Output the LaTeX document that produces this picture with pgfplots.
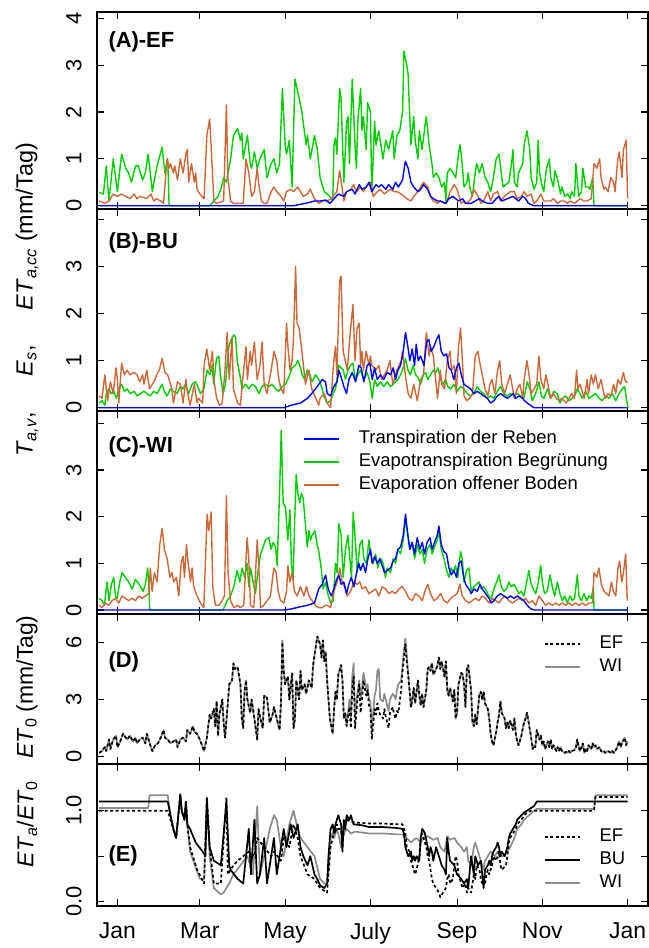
\documentclass[border=0pt]{standalone}
\usepackage{pgfplots}
\pgfplotsset{compat=1.18}
\usepackage{fontspec}
\setmainfont{Liberation Sans}
\definecolor{cblue}{RGB}{0,0,255}
\definecolor{cgreen}{RGB}{0,205,0}
\definecolor{corange}{RGB}{205,104,57}
\definecolor{cgray}{RGB}{140,140,140}
\tikzset{
  plbl/.style={anchor=west, inner sep=0pt, font=\bfseries\fontsize{22}{22}\selectfont},
  lwa/.style={line width=1.4bp},
  lwb/.style={line width=1.7bp},
}
\pgfplotsset{
  panel/.style={
    scale only axis, width=551bp, anchor=south west,
    xmin=-14.6, xmax=379.6,
    xtick={0,59,120,181,243,304,365}, xticklabels={},
    tick align=inside, tick pos=both,
    xticklabel pos=lower, yticklabel pos=left,
    major tick length=7bp,
    axis line style={line width=1.3bp},
    every tick/.style={black, line width=1.1bp},
    /pgf/number format/assume math mode=true,
    yticklabel style={rotate=90, anchor=south, font=\fontsize{22}{22}\selectfont},
    yticklabel shift=12bp,
    xticklabel style={font=\fontsize{23}{23}\selectfont},
    xticklabel shift=13bp,
    legend image code/.code={\draw[##1] (0bp,0bp) -- (35bp,0bp); \path (53bp,0bp);},
    legend style={draw=none, fill=none, inner sep=0pt, font=\fontsize{18.5}{18.5}\selectfont,
      nodes={inner sep=1bp, text height=13bp, text depth=4bp}, row sep=4bp},
    legend cell align=left,
    every axis plot/.append style={line join=round, no markers},
  },
}
\begin{document}
\begin{tikzpicture}
\useasboundingbox (0bp,0bp) rectangle (649bp,948bp);

% ---------------- (A) EF
\begin{axis}[panel, at={(97bp,739bp)}, height=197bp, ymin=-0.07, ymax=4.135, ytick={0,1,2,3,4}]
\addplot[cgreen, lwa] coordinates {(-13,0.28)(-10,0.25)(-8,0.85)(-6,0.1)(-3,1.0)(0,0.3)(3,1.1)(6,0.8)(8,0.7)(10,0.5)(13,0.85)(15,0.85)(18,0.55)(20,0.7)(22,1.1)(25,0.3)(28,0.8)(32,1.25)(34,0.7)(36,1.0)(37,0)(66,0)(69,0.1)(72,0.2)(74,0.35)(76,0.6)(78,0.5)(81,1.0)(83,1.5)(86,1.65)(88,1.4)(89,1.55)(90,1.0)(93,1.5)(95,0.9)(96,0.8)(98,1.15)(100,0.8)(102,1.0)(105,1.2)(107,0.6)(110,0.9)(112,1.0)(114,0.7)(116,0.9)(118,2.5)(120,1.3)(121,1.1)(123,1.4)(125,0.4)(127,2.7)(130,2.3)(132,2.0)(135,1.3)(136,1.5)(138,1.0)(141,1.5)(143,1.2)(145,0.6)(148,0.3)(150,0.25)(152,0.2)(154,0.1)(155,1.3)(156,1.45)(157,1.1)(159,2.5)(160,2.3)(162,0.5)(164,1.8)(165,1.9)(166,0.9)(168,2.7)(170,1.3)(171,0.8)(172,1.8)(174,2.5)(175,1.6)(176,1.9)(178,1.2)(179,2.2)(181,2.0)(182,0.3)(184,1.8)(185,1.3)(187,1.6)(188,1.4)(190,1.0)(192,1.4)(194,1.2)(197,1.6)(198,1.0)(200,1.5)(202,1.6)(204,2.0)(205,3.3)(207,3.0)(208,2.8)(209,2.0)(210,1.3)(212,1.9)(213,1.4)(215,1.0)(216,1.6)(218,1.2)(220,1.7)(221,1.9)(223,1.3)(225,0.9)(226,0.6)(228,0.7)(230,0.6)(232,0.4)(234,0.5)(235,0.1)(236,0.7)(238,0.8)(240,0.7)(242,0.6)(244,1.1)(245,1.3)(246,1.1)(248,0.4)(250,0.5)(251,0.7)(252,0.4)(254,0.2)(256,0.7)(257,0.9)(259,0.7)(261,0.9)(263,0.6)(265,0.5)(267,0.3)(269,0.6)(271,1.0)(273,1.1)(275,0.6)(276,0.4)(278,0.45)(280,0.5)(282,0.9)(283,1.2)(284,0.5)(286,0.4)(287,0.7)(290,0.9)(291,1.3)(293,1.6)(295,1.2)(296,0.6)(298,0.35)(300,0.5)(301,1.4)(302,0.7)(304,0.4)(305,0.3)(307,0.8)(309,1.0)(310,0.6)(312,0.4)(313,0.75)(315,0.55)(317,0.25)(318,0.4)(320,0.2)(322,0.25)(324,0.15)(325,0.3)(327,0.2)(328,0.9)(330,0.2)(332,0.3)(333,0.8)(335,0.4)(337,0.4)(338,0.35)(340,0.6)(341,0)(365,0)};
\addplot[corange, lwa] coordinates {(-13,0.1)(-9,0.05)(-6,0.1)(-3,0.25)(0,0.2)(3,0.25)(6,0.2)(9,0.15)(12,0.25)(14,0.15)(16,0.2)(21,0.15)(24,0.25)(26,0.1)(28,0.15)(31,0.1)(33,0.05)(35.5,1.0)(37,0.8)(38,0.9)(40,0.7)(41,0.85)(43,0.55)(45,1.0)(47,0.7)(49,1.1)(50,1.2)(51,0.5)(53,0.9)(55,0.5)(56,0.7)(57,0.35)(59,0.25)(62,0.15)(64,1.5)(66,1.85)(67,1.3)(69,0.1)(71,0.05)(76,0.1)(78,2.15)(79,0.6)(81,0.1)(83,0.05)(90,0.05)(92,1.0)(94,0.7)(96,0.2)(98,0.3)(100,0.8)(101,0.5)(103,0.1)(105,0.05)(107,0.05)(110,0.3)(112,0.4)(114,0.3)(117,0.2)(119,0.1)(121,0.3)(124,0.35)(126,0.3)(129,0.4)(131,0.3)(133,0.2)(136,0.25)(138,0.35)(141,0.15)(144,0.05)(147,0.1)(150,0.1)(153,0.15)(157,0.3)(159,0.75)(160,0.55)(162,0.1)(164,0.3)(167,0.35)(169,0.45)(171,0.3)(174,0.4)(176,0.3)(179,0.45)(181,0.5)(183,0.2)(186,0.3)(188,0.35)(191,0.25)(193,0.3)(195,0.35)(198,0.3)(200,0.3)(203,0.25)(205,0.2)(207,0.15)(210,0.1)(212,0.2)(215,0.3)(217,0.4)(219,0.5)(222,0.4)(224,0.2)(226,0.1)(229,0.05)(231,0.1)(234,0.05)(236,0.1)(238,0.3)(241,0.45)(243,0.35)(246,0.05)(248,0.1)(250,0.05)(253,0.15)(255,0.35)(258,0.2)(260,0.05)(262,0.1)(265,0.3)(267,0.1)(269,0.25)(272,0.3)(274,0.1)(277,0.2)(279,0.25)(281,0.3)(284,0.3)(286,0.15)(289,0.2)(291,0.3)(293,0.2)(296,0.25)(298,0.05)(300,0.1)(303,0.25)(305,0.1)(308,0.1)(310,0.1)(312,0.15)(315,0.05)(317,0.1)(320,0.1)(322,0.05)(324,0.1)(327,0.05)(329,0.1)(331,0.15)(334,0.1)(336,0.1)(339,0.15)(341,0.9)(343,0.8)(345,1.0)(346,0.6)(348,0.35)(349,0.4)(351,0.3)(353,0.6)(355,0.5)(356,0.3)(358,1.0)(359,1.15)(361,0.6)(362,1.2)(364,1.4)(365,0.15)};
\addplot[cblue, lwa] coordinates {(-13,0)(126,0)(131,0.03)(136,0.06)(141,0.1)(145,0.1)(149,0.12)(152,0.05)(155,0.15)(158,0.25)(162,0.2)(164,0.3)(168,0.35)(170,0.25)(173,0.45)(175,0.35)(178,0.4)(180,0.5)(182,0.3)(185,0.45)(187,0.4)(189,0.45)(192,0.35)(194,0.45)(197,0.35)(199,0.5)(201,0.4)(204,0.55)(206,0.95)(208,0.8)(210,0.5)(212,0.4)(215,0.3)(217,0.35)(219,0.45)(222,0.35)(224,0.2)(226,0.15)(229,0.1)(231,0.1)(235,0.05)(237,0.15)(240,0.2)(242,0.15)(244,0.1)(247,0.15)(249,0.05)(253,0.05)(256,0.1)(259,0.15)(261,0.1)(265,0.05)(268,0.05)(271,0.15)(273,0.2)(275,0.1)(279,0.15)(283,0.2)(285,0.15)(287,0.1)(290,0.2)(292,0.15)(294,0.05)(298,0)(365,0)};
\node[plbl] at (axis cs:-6.5,3.5) {(A)-EF};
\end{axis}

% ---------------- (B) BU
\begin{axis}[panel, at={(97bp,537bp)}, height=202bp, ymin=-0.07, ymax=4.228, ytick={0,1,2,3,4}, yticklabels={0,1,2,3,}]
\addplot[cgreen, lwa] coordinates {(-13,0.1)(-11,0.15)(-9,0.05)(-8,0.3)(-6,0.4)(-4.5,0.3)(-2.6,0.35)(-0.7,0.2)(1,0.4)(3,0.5)(5,0.35)(7,0.4)(9,0.3)(12,0.35)(14,0.25)(16.5,0.3)(19,0.35)(21,0.3)(23.5,0.25)(26,0.35)(28.5,0.3)(31,0.45)(32,0.5)(33.5,0.35)(35.5,0.25)(38,0.4)(40,0.35)(42.7,0.3)(45,0.45)(47,0.4)(48.7,0.5)(51,0.3)(53.4,0.5)(55.8,0.55)(57.5,0.45)(59.4,0.3)(61.8,0.4)(64.2,0.8)(66.1,0.7)(67.8,0.9)(68.9,0.5)(70.9,1.05)(72.5,1.1)(73.7,0.7)(75.6,0.3)(77.3,0.5)(79.7,1.3)(81.4,1.45)(83.3,1.55)(84.5,1.5)(85.7,1.0)(87.6,0.7)(89.2,0.4)(91.6,0.5)(94,0.4)(96.4,0.5)(98.8,0.45)(101.2,0.3)(103.6,0.45)(105.9,0.5)(108.3,0.45)(110.7,0.5)(113.1,0.4)(115.5,0.35)(117.9,0.45)(120.3,0.5)(122.6,0.65)(125,0.85)(127.4,0.9)(129.1,1.0)(131,0.85)(132.2,0.7)(133.9,0.6)(135.8,0.8)(137.7,0.7)(139.3,0.55)(141.7,0.7)(144.1,0.6)(146.5,0.4)(147.7,0.25)(150.1,0.1)(152.5,0.15)(154.4,0.3)(156,0.4)(158.4,0.9)(160.1,0.85)(161.5,0.8)(163.2,0.6)(164.9,0.8)(166.8,0.9)(168.4,0.95)(170.4,0.6)(172,0.7)(173.9,0.8)(176.3,0.6)(178.7,0.75)(180.6,0.55)(182.3,0.2)(184,0.6)(185.9,0.45)(188.2,0.55)(190.6,0.45)(193,0.55)(195.4,0.45)(197.3,0.5)(199,0.55)(200.7,0.6)(202.6,0.7)(204.5,0.85)(206.1,1.05)(207.8,0.8)(209.7,0.7)(211.6,0.9)(213.3,0.7)(215,0.65)(216.9,0.5)(218.8,0.7)(220.5,0.75)(222.1,0.6)(224,0.7)(226,0.8)(227.6,0.75)(229.3,0.85)(231.2,0.6)(233.1,0.5)(234.8,0.6)(236.4,0.45)(238.4,0.4)(240.7,0.5)(243.1,0.35)(245.5,0.45)(247.9,0.4)(250.3,0.3)(252.7,0.25)(255.1,0.3)(257.4,0.45)(259.8,0.35)(262.2,0.3)(264.6,0.2)(267,0.25)(269.4,0.2)(271.8,0.35)(274.1,0.45)(276.5,0.3)(278.9,0.25)(281.3,0.3)(283.7,0.25)(286.1,0.3)(288.5,0.25)(290.8,0.2)(293.2,0.55)(295.1,0.4)(296.8,0.15)(299.2,0.3)(301.6,0.55)(303.3,0.25)(305.2,0.2)(307.5,0.4)(309.9,0.2)(312.3,0.35)(314.7,0.3)(316.6,0.1)(318.3,0.2)(320.7,0.25)(323.1,0.15)(325.4,0.2)(327.8,0.3)(329,0.4)(330.9,0.3)(332.6,0.2)(335,0.35)(337.4,0.2)(339.8,0.25)(342.1,0.3)(344.5,0.2)(346.9,0.15)(349.3,0.25)(351.7,0.2)(354.1,0.3)(356.5,0.15)(358.9,0.3)(361.2,0.4)(362.9,0.45)(364.3,0.15)(365.3,0)};
\addplot[corange, lwa] coordinates {(-13,0.25)(-11,0.2)(-9,0.7)(-7,0.15)(-5,0.55)(-3,0.3)(-1,0.85)(0,0.6)(1,0.1)(3,0.95)(5,0.7)(7,0.8)(9,0.7)(12,0.75)(14,0.7)(16,0.55)(18,0.7)(19,0.5)(21,0.8)(23,0.4)(25,0.5)(27,0.6)(28,0.7)(30,0.8)(32,1.05)(34,0.75)(36,0.7)(38,0.5)(39,0.4)(40,0.1)(43,0.55)(45,0.5)(47,0.1)(49,0.6)(50,0.35)(52,0.05)(55,0.5)(57,0.1)(58,0.2)(61,0.1)(62,0.9)(64,1.25)(66,0.8)(68,1.2)(69,0.6)(71,0.2)(73,0.05)(75,0.1)(77,0.8)(78.5,1.6)(80,0.6)(82,1.5)(83,0.4)(86,0.1)(88,0.05)(89,0.4)(92,1.3)(93,0.6)(95,1.2)(96,0.9)(98,1.4)(100,0.6)(102,0.9)(103.5,1.4)(105,0.5)(107,0.3)(110,0.8)(112,1.2)(114,1.0)(115.5,0.6)(117,0.4)(119,0.3)(121,1.8)(122,1.3)(123.5,0.8)(125,1.0)(126,1.5)(127.5,3.0)(128.5,1.8)(130,1.7)(132,1.2)(134.5,0.5)(137,0.8)(139,0.4)(142,0.2)(144,0.05)(145,0.2)(148,0.3)(150,0.1)(152.5,0.0)(154.5,0.9)(156,1.3)(157,0.7)(159,2.7)(160,2.8)(161.5,1.2)(163,1.0)(164.5,0.8)(166,1.4)(168.5,2.2)(170,1.0)(171.5,1.7)(173,1.8)(174,0.9)(175,1.2)(176,0.8)(178,1.2)(180,0.9)(181,1.1)(182,0.9)(185,0.8)(187,0.9)(189,0.6)(191,0.7)(193,0.8)(195,1.0)(197,0.5)(198,0.6)(200,0.8)(203,1.0)(204,1.2)(206,0.7)(208,0.3)(210,0.2)(212,0.5)(214.5,0.15)(217,0.6)(219,0.7)(221,1.6)(223,1.1)(224,1.3)(226,1.1)(229,0.2)(231,0.8)(232,0.5)(234,0.4)(236,1.0)(238,1.2)(239,0.8)(241,0.9)(242.5,0.3)(244,1.3)(245.5,1.7)(247,0.9)(248,0.25)(250,0.15)(252,0.2)(254,0.3)(256,1.1)(258,1.2)(259,1.0)(261,0.7)(263,0.4)(265,0.25)(266.5,0.5)(268,0.6)(270,0.3)(272,0.8)(273.5,1.0)(275,0.5)(277,0.3)(279,0.5)(281,0.7)(282.5,0.45)(284,0.2)(286,0.4)(288,0.5)(290,0.2)(291,0.6)(293,1.0)(294.5,0.7)(296,0.3)(298,0.4)(300,0.5)(301.5,1.1)(303,0.6)(305,0.4)(306.5,0.7)(308,0.5)(310,0.2)(312,0.3)(314,0.2)(316,0.15)(318,0.2)(321,0.1)(323,0.2)(325,0.3)(327,0.2)(328.5,0.8)(329.5,0.4)(331,0.5)(334,0.2)(336,0.6)(337,0.3)(339,0.7)(340.5,0.5)(342,0.7)(344,0.4)(346,0.6)(348,0.3)(349,0.2)(351,0.3)(353,0.25)(355,0.5)(356.5,0.3)(358,0.6)(360,0.5)(362,0.75)(363.5,0.55)(365,0.55)};
\addplot[cblue, lwa] coordinates {(-13,0)(119,0)(124,0.05)(131,0.1)(136,0.2)(139,0.3)(143,0.45)(146.5,0.6)(148.9,0.55)(150.1,0.3)(152.5,0.25)(154.8,0.45)(157.2,0.55)(158.4,0.8)(160.1,0.65)(162,0.45)(163.9,0.3)(165.6,0.6)(168,0.75)(170.4,0.55)(172.7,0.9)(174.4,0.85)(176.3,0.55)(178.7,0.9)(180.6,0.95)(182.3,0.6)(184,0.85)(185.9,0.6)(188.2,0.7)(190.6,0.6)(193,0.75)(195.4,0.7)(197.3,0.85)(199,0.6)(200.7,0.8)(202.6,0.9)(204.5,1.2)(206.1,1.6)(207.8,1.3)(209.2,1.0)(210.9,1.25)(212.6,0.9)(213.8,1.35)(215.2,1.0)(216.9,1.1)(219.3,0.9)(221.2,1.4)(222.8,1.45)(224.5,1.2)(226.4,1.3)(228.3,1.45)(230,1.55)(231.7,1.2)(233.6,1.1)(235.5,1.15)(237.2,0.85)(238.8,0.8)(240.7,0.6)(242.6,0.85)(244.3,0.95)(246,0.7)(247.9,0.5)(250.3,0.45)(252.7,0.4)(255.1,0.3)(257.4,0.35)(259.8,0.3)(262.2,0.25)(264.6,0.2)(267,0.1)(269.4,0.15)(271.8,0.25)(274.1,0.3)(276.5,0.25)(278.9,0.2)(281.3,0.25)(283.2,0.3)(284.9,0.2)(287.3,0.25)(289.7,0.2)(291.3,0.15)(293.2,0.1)(295.6,0.05)(298,0)(365,0)};
\node[plbl] at (axis cs:-6.5,3.5) {(B)-BU};
\end{axis}

% ---------------- (C) WI
\begin{axis}[panel, at={(97bp,334bp)}, height=203bp, ymin=-0.086, ymax=4.264, ytick={0,1,2,3,4}, yticklabels={0,1,2,3,},
  legend style={at={(axis cs:133,3.87)}, anchor=north west}]
\addlegendimage{cblue, lwa}\addlegendentry{Transpiration der Reben}
\addlegendimage{cgreen, lwa}\addlegendentry{Evapotranspiration Begrünung}
\addlegendimage{corange, lwa}\addlegendentry{Evaporation offener Boden}
\addplot[cgreen, lwa, forget plot] coordinates {(-13,0.25)(-11,0.2)(-9.3,0.1)(-7.4,0.6)(-6,0.2)(-4.3,0.55)(-2.6,0.7)(-1.4,0.3)(-0.2,0.25)(1.7,0.6)(3.3,0.8)(5.7,0.7)(8.1,0.6)(10.5,0.45)(12.9,0.65)(14.5,0.6)(16.5,0.5)(18.4,0.4)(20,0.55)(21.7,0.9)(22.7,0.4)(23.1,0)(75.6,0)(78.5,0.2)(80.9,0.3)(83.3,0.5)(85.7,0.85)(87.6,0.6)(89.2,0.9)(91.1,0.7)(92.8,1.0)(94,0.5)(95.2,0.9)(97.1,0.6)(98.8,0.35)(100.4,0.8)(102.4,1.2)(104.3,1.35)(105.9,1.5)(108.3,1.55)(110,1.3)(111.4,1.45)(113.1,1.35)(114.3,0.95)(116.2,2.7)(117.2,3.85)(118.6,2.3)(120.3,2.2)(121.9,1.5)(123.4,2.15)(124.5,1.0)(125.7,0.65)(126.7,1.8)(127.9,2.9)(129.1,2.5)(130.5,2.3)(131.7,2.5)(132.9,2.4)(134.6,1.8)(135.8,1.35)(137,1.7)(138.2,1.5)(139.3,1.6)(141.3,1.7)(142.9,1.4)(144.1,1.25)(145.8,0.9)(147.2,0.45)(148.9,0.6)(150.5,0.35)(152.5,0.15)(154.4,0.2)(156,1.0)(157.2,0.8)(158.4,1.85)(160.1,1.6)(161.5,0.7)(163.2,1.3)(164.9,1.6)(166.3,1.1)(167.5,0.7)(168.7,2.1)(170.4,1.4)(171.5,0.8)(173.5,1.4)(175.1,1.5)(176.3,1.1)(178.2,1.0)(179.9,1.5)(181.1,1.2)(183,1.0)(184.7,1.2)(186.3,0.9)(188.2,1.1)(190.2,1.0)(191.8,0.7)(193,0.9)(195.4,0.8)(197.3,1.1)(199,1.0)(200.7,1.3)(202.6,1.2)(204.5,1.5)(206.1,1.95)(207.8,1.6)(209.2,1.3)(210.9,1.45)(212.6,1.1)(214.5,1.4)(216.4,1.2)(218.1,1.3)(219.7,1.0)(221.6,1.3)(223.6,1.4)(225.2,1.2)(226.9,1.35)(228.8,1.5)(230,1.7)(231.7,1.3)(233.6,1.1)(235.5,0.85)(237.2,0.7)(238.8,0.9)(240.3,0.8)(241.9,0.95)(243.6,0.7)(245.5,1.25)(246.7,1.1)(247.9,0.6)(249.8,0.85)(251.5,0.9)(253.1,0.4)(255.1,0.5)(257,0.55)(258.6,0.6)(260.3,0.45)(262.2,0.5)(264.1,0.4)(265.8,0.3)(267.5,0.25)(269.4,0.45)(271.3,0.6)(273,0.75)(274.6,0.5)(276.5,0.4)(278.4,0.45)(280.1,0.6)(281.8,0.5)(283.7,0.55)(285.6,0.45)(287.3,0.35)(288.9,0.4)(290.8,0.3)(292.8,0.6)(294.4,0.85)(295.6,0.6)(297.5,0.45)(299.2,0.35)(300.9,0.55)(302.8,0.95)(304,0.6)(305.6,0.35)(307.5,0.4)(309.5,0.75)(311.1,0.5)(312.8,0.3)(314.7,0.6)(316.6,0.35)(318.3,0.2)(320,0.3)(321.9,0.15)(323.8,0.3)(325.4,0.2)(327.1,0.25)(329,0.75)(330.2,0.3)(331.9,0.2)(333.8,0.35)(335.7,0.2)(337.4,0.3)(339.1,0.25)(340.5,0.5)(341,0)(365,0)};
\addplot[corange, lwa, forget plot] coordinates {(-13,0.1)(-11,0.05)(-8.6,0.15)(-6.2,0.1)(-3.8,0.2)(-1.4,0.25)(1,0.15)(3.3,0.3)(5.7,0.25)(8.1,0.2)(10.5,0.25)(12.9,0.2)(15.3,0.3)(17.7,0.25)(20,0.3)(22.4,0.35)(23.6,0.9)(24.8,0.4)(26.5,0.8)(28.4,0.6)(30.3,1.4)(32,1.75)(33.6,1.3)(35.6,1.1)(37.5,0.7)(39.1,0.8)(40.3,0.6)(42.2,0.7)(43.9,0.3)(45.6,1.0)(47,1.15)(48,0.7)(49.4,1.4)(50.6,1.0)(52.3,0.6)(53.4,0.9)(54.6,0.5)(57,0.3)(59.4,0.15)(61.8,0.05)(64.2,2.05)(65.4,1.7)(67.1,2.1)(68.2,0.5)(70.1,0.1)(72.5,0.1)(74.9,0.2)(76.6,0.3)(78,2.45)(79.2,0.8)(80.9,0.2)(83.3,0.05)(86.1,0.1)(88,0.05)(90.4,0.1)(92.8,1.55)(94,1.1)(95.2,0.1)(97.6,0.05)(100,1.5)(101.2,0.9)(102.4,0.05)(104.7,0.1)(107.1,0.2)(109.5,0.3)(111.9,0.9)(113.6,0.8)(115,0.4)(116.7,0.2)(119.1,0.15)(121,0.4)(122,0.95)(123.4,0.6)(125,0.8)(126.7,0.4)(128.6,0.3)(131,0.5)(133.4,0.3)(135.3,0.5)(137,0.3)(139.3,0.2)(141.7,0.1)(144.1,0.05)(146.5,0.05)(148.9,0.1)(150.1,0.1)(152.5,0.05)(154.8,0.4)(157.2,0.6)(159.1,0.9)(160.8,0.6)(162.5,0.5)(164.4,0.3)(166.8,0.4)(169.2,0.6)(171.5,0.55)(173.5,0.6)(175.1,0.45)(177.5,0.5)(179.9,0.35)(182.3,0.4)(184.7,0.45)(187.1,0.3)(189.4,0.5)(191.8,0.45)(194.2,0.35)(196.6,0.4)(199,0.35)(201.4,0.45)(203.8,0.5)(206.1,0.4)(208.5,0.25)(210.9,0.2)(213.3,0.35)(215.7,0.3)(218.1,0.2)(220.5,0.45)(222.1,0.55)(224,0.35)(226.4,0.2)(228.8,0.25)(231.2,0.35)(233.6,0.2)(236,0.15)(238.4,0.25)(240.7,0.3)(243.1,0.35)(245,0.55)(246.7,0.3)(249.1,0.2)(251.5,0.15)(253.9,0.2)(256.2,0.25)(258.6,0.2)(261,0.3)(263.4,0.25)(265.8,0.15)(268.2,0.25)(270.6,0.2)(273,0.15)(275.3,0.25)(277.7,0.3)(280.1,0.2)(282.5,0.15)(284.9,0.2)(287.3,0.25)(289.7,0.2)(292,0.25)(294.4,0.15)(296.8,0.2)(299.2,0.1)(301.6,0.3)(304,0.2)(306.4,0.1)(308.7,0.15)(311.1,0.1)(313.5,0.15)(315.9,0.1)(318.3,0.15)(320.7,0.1)(323.1,0.15)(325.4,0.1)(327.8,0.15)(330.2,0.1)(332.6,0.15)(335,0.1)(337.4,0.15)(339.8,0.15)(341,0.8)(342.9,0.7)(344.5,0.9)(346.2,0.55)(348.1,0.4)(350,0.35)(351.7,0.3)(353.4,0.6)(354.8,0.4)(356.5,0.3)(358.1,0.9)(359.3,1.05)(360.8,0.6)(362,0.8)(363.6,1.2)(364.8,0.2)};
\addplot[cblue, lwa, forget plot] coordinates {(-13,0)(119,0)(124,0.02)(131,0.07)(136,0.1)(141,0.15)(144,0.45)(146.5,0.55)(148.9,0.75)(150.5,0.5)(151.5,0.4)(153,0.3)(154.8,0.45)(156.8,0.65)(158.4,0.75)(160.1,0.55)(162,0.6)(163.9,0.35)(165.6,0.55)(167.3,0.7)(169.2,0.5)(171.1,0.8)(172.7,1.0)(173.9,0.85)(175.8,1.0)(177.5,0.8)(179.2,1.1)(181.1,1.3)(182.3,1.0)(184,1.15)(185.9,1.0)(187.8,1.1)(189.4,0.95)(191.1,0.8)(193,0.85)(195.4,0.9)(197.3,1.05)(199,1.1)(200.7,1.3)(202.6,1.35)(204.5,1.6)(206.1,2.05)(207.8,1.6)(209.2,1.3)(210.9,1.45)(212.6,1.2)(214.5,1.55)(216.4,1.3)(218.1,1.45)(219.7,1.2)(221.6,1.45)(223.6,1.55)(225.2,1.3)(226.9,1.45)(228.8,1.6)(230,1.8)(231.7,1.4)(233.6,1.25)(235.5,1.2)(237.2,0.9)(238.8,0.75)(240.7,0.85)(242.6,0.7)(244.3,1.0)(246,1.05)(247.4,0.75)(249.1,0.55)(251.5,0.45)(253.1,0.35)(255.1,0.45)(257.4,0.4)(259.4,0.55)(261,0.45)(263.4,0.35)(265.8,0.25)(267.5,0.15)(269.4,0.2)(271.8,0.3)(274.1,0.35)(276.5,0.3)(278.9,0.25)(281.3,0.3)(283.7,0.25)(286.1,0.3)(288.5,0.25)(290.8,0.2)(293.2,0.1)(295.6,0.03)(298,0)(365,0)};
\node[plbl] at (axis cs:-6.5,3.5) {(C)-WI};
\end{axis}

% ---------------- (D) ET0
\begin{axis}[panel, at={(97bp,184bp)}, height=150bp, ymin=-0.383, ymax=7.483, ytick={0,3,6},
  legend style={at={(axis cs:305,6.41)}, anchor=north west}]
\addlegendimage{black, lwb, dash pattern=on 3bp off 2.5bp}\addlegendentry{EF}
\addlegendimage{cgray, lwb}\addlegendentry{WI}
\addplot[cgray, lwb, forget plot] coordinates {(-13,0.2)(-11,0.3)(-9,0.5)(-8,0.3)(-6,0.9)(-5,0.4)(-3,0.9)(-1,1.1)(0,0.5)(2,0.8)(4,1.2)(6,1.0)(7,0.9)(9,1.1)(11,0.8)(13,1.0)(14,0.7)(16,0.9)(18,1.0)(20,0.7)(21,1.2)(24,0.5)(25,0.3)(27,0.6)(29,0.7)(31,1.0)(33,1.4)(34,1.0)(36,0.9)(38,0.7)(40,0.8)(42,0.9)(43,0.5)(45,0.9)(47,1.0)(49,0.8)(50,1.4)(52,1.2)(54,1.6)(55,1.3)(57,1.2)(59,0.9)(61,0.5)(62,0.3)(64,1.0)(66,2.2)(67,2.0)(69,2.5)(70,1.6)(71,2.9)(72,1.1)(73,2.2)(75,3.0)(76,1.8)(77,1.0)(79,2.8)(80,3.8)(82,4.0)(83,4.9)(84,4.6)(86,4.7)(88,3.8)(89,2.0)(90,1.5)(91,3.5)(92,4.0)(93,3.0)(95,2.3)(96,3.0)(98,2.0)(100,0.9)(101,2.5)(102,2.1)(104,1.5)(105,3.2)(107,3.1)(109,1.8)(111,2.2)(112,2.6)(114,2.0)(116,1.4)(117,2.8)(118,6.1)(119,4.5)(120,3.8)(122,4.2)(123,3.0)(125,4.4)(126,1.5)(127,2.0)(128,4.0)(130,3.0)(131,4.5)(132,3.5)(134,3.8)(135,3.3)(137,4.0)(139,3.6)(140,4.8)(142,5.8)(143,6.3)(145,5.9)(146,5.2)(147,6.1)(148,5.0)(149,5.5)(150,4.0)(151,3.0)(152,2.0)(154,1.2)(155,2.5)(156,3.4)(157,3.0)(158,4.3)(160,4.8)(161,4.0)(162,2.0)(163,2.3)(164,1.6)(166,3.0)(167,2.0)(168,4.2)(169,4.9)(170,2.2)(172,3.5)(173,4.0)(174,3.0)(175,3.6)(176,4.4)(178,3.6)(179,3.8)(180,3.0)(181,2.9)(182,1.4)(184,3.2)(185,3.5)(186,4.5)(187,4.6)(188,3.0)(190,2.9)(191,3.3)(192,3.0)(193,2.7)(194,2.4)(195,3.0)(197,3.3)(198,3.2)(199,3.0)(200,3.5)(201,3.8)(203,4.0)(204,4.8)(205,5.6)(206,6.2)(207,5.3)(209,3.5)(210,2.6)(211,3.0)(212,3.6)(213,2.8)(215,4.0)(216,3.2)(217,2.7)(218,3.3)(219,2.6)(221,3.5)(222,4.6)(223,4.7)(224,4.5)(225,4.9)(226,4.3)(228,4.6)(229,4.8)(230,5.2)(231,4.6)(232,5.0)(234,4.2)(235,5.0)(236,3.5)(237,3.2)(238,3.6)(240,2.9)(241,3.5)(242,2.0)(243,2.3)(244,3.8)(246,4.4)(247,4.3)(248,3.8)(249,2.6)(250,4.6)(251,4.8)(253,3.5)(254,1.8)(255,1.6)(256,2.2)(257,1.7)(259,3.3)(260,3.4)(261,3.0)(262,3.4)(263,2.8)(265,2.5)(266,2.0)(267,1.2)(268,0.8)(269,0.6)(271,1.3)(272,1.8)(273,2.2)(274,2.9)(275,2.3)(277,2.0)(278,1.5)(279,1.8)(280,1.5)(281,1.9)(283,1.4)(284,2.0)(285,1.2)(286,0.8)(287,0.6)(289,1.1)(290,1.5)(291,1.8)(292,2.0)(293,2.3)(294,1.9)(296,1.0)(297,0.4)(298,0.6)(299,0.5)(300,1.4)(302,0.9)(303,1.1)(304,0.6)(305,0.8)(306,0.4)(308,0.8)(309,0.5)(310,0.9)(311,0.4)(312,0.6)(314,0.3)(315,0.5)(316,0.3)(317,0.5)(318,0.3)(320,0.2)(321,0.25)(322,0.2)(323,0.3)(324,0.2)(325,0.3)(327,0.35)(328,0.5)(329,0.9)(330,0.5)(331,0.3)(333,0.7)(334,0.2)(335,0.4)(336,0.3)(337,0.6)(339,0.4)(340,0.7)(341,0.5)(342,0.6)(343,0.4)(345,0.5)(346,0.3)(347,0.25)(348,0.3)(349,0.2)(351,0.3)(352,0.25)(353,0.2)(354,0.3)(355,0.2)(357,0.4)(358,0.6)(359,0.8)(360,0.5)(361,0.7)(363,1.0)(364,0.6)(365,0.8)};
\addplot[black, lwb, dash pattern=on 3bp off 2.5bp, forget plot] coordinates {(-13,0.2)(-11,0.3)(-9,0.5)(-8,0.3)(-6,0.9)(-5,0.4)(-3,0.9)(-1,1.1)(0,0.5)(2,0.8)(4,1.2)(6,1.0)(7,0.9)(9,1.1)(11,0.8)(13,1.0)(14,0.7)(16,0.9)(18,1.0)(20,0.7)(21,1.2)(24,0.5)(25,0.3)(27,0.6)(29,0.7)(31,1.0)(33,1.4)(34,1.0)(36,0.9)(38,0.7)(40,0.8)(42,0.9)(43,0.5)(45,0.9)(47,1.0)(49,0.8)(50,1.4)(52,1.2)(54,1.6)(55,1.3)(57,1.2)(59,0.9)(61,0.5)(62,0.3)(64,1.0)(66,2.2)(67,2.0)(69,2.5)(70,1.6)(71,2.9)(72,1.1)(73,2.2)(75,3.0)(76,1.8)(77,1.0)(79,2.8)(80,3.8)(82,4.0)(83,4.9)(84,4.6)(86,4.7)(88,3.8)(89,2.0)(90,1.5)(91,3.5)(92,4.0)(93,3.0)(95,2.3)(96,3.0)(98,2.0)(100,0.9)(101,2.5)(102,2.1)(104,1.5)(105,3.2)(107,3.1)(109,1.8)(111,2.2)(112,2.6)(114,2.0)(116,1.4)(117,2.8)(118,6.0)(119,4.5)(120,3.8)(122,4.2)(123,3.0)(125,4.4)(126,1.5)(127,2.0)(128,4.0)(130,3.0)(131,4.5)(132,3.5)(134,3.8)(135,3.3)(137,4.0)(139,3.6)(140,4.8)(142,5.8)(143,6.3)(145,5.9)(146,5.2)(147,6.1)(148,5.0)(149,5.5)(150,4.0)(151,3.0)(152,2.0)(154,1.2)(155,2.5)(156,3.4)(157,3.0)(158,4.3)(160,4.8)(161,4.0)(162,2.0)(163,2.3)(164,1.6)(166,2.6)(167,1.5)(168,3.5)(169,4.2)(170,1.5)(172,3.2)(173,3.8)(174,2.3)(175,3.0)(176,4.0)(178,3.2)(179,3.5)(180,2.7)(181,2.5)(182,0.9)(184,2.5)(185,2.2)(186,2.8)(187,2.4)(188,2.2)(190,2.0)(191,2.5)(192,2.1)(193,1.8)(194,1.5)(195,2.3)(197,2.6)(198,2.2)(199,2.0)(200,2.4)(201,2.3)(203,3.5)(204,4.5)(205,5.2)(206,5.9)(207,5.0)(209,3.5)(210,2.6)(211,3.0)(212,3.6)(213,2.8)(215,4.0)(216,3.2)(217,2.7)(218,3.3)(219,2.6)(221,3.5)(222,4.6)(223,4.7)(224,4.5)(225,4.9)(226,4.3)(228,4.6)(229,4.8)(230,5.2)(231,4.6)(232,5.0)(234,4.2)(235,5.0)(236,3.5)(237,3.2)(238,3.6)(240,2.9)(241,3.5)(242,2.0)(243,2.3)(244,3.8)(246,4.4)(247,4.3)(248,3.8)(249,2.6)(250,4.6)(251,4.8)(253,3.5)(254,1.8)(255,1.6)(256,2.2)(257,1.7)(259,3.3)(260,3.4)(261,3.0)(262,3.4)(263,2.8)(265,2.5)(266,2.0)(267,1.2)(268,0.8)(269,0.6)(271,1.3)(272,1.8)(273,2.2)(274,2.9)(275,2.3)(277,2.0)(278,1.5)(279,1.8)(280,1.5)(281,1.9)(283,1.4)(284,2.0)(285,1.2)(286,0.8)(287,0.6)(289,1.1)(290,1.5)(291,1.8)(292,2.0)(293,2.3)(294,1.9)(296,1.0)(297,0.4)(298,0.6)(299,0.5)(300,1.4)(302,0.9)(303,1.1)(304,0.6)(305,0.8)(306,0.4)(308,0.8)(309,0.5)(310,0.9)(311,0.4)(312,0.6)(314,0.3)(315,0.5)(316,0.3)(317,0.5)(318,0.3)(320,0.2)(321,0.25)(322,0.2)(323,0.3)(324,0.2)(325,0.3)(327,0.35)(328,0.5)(329,0.9)(330,0.5)(331,0.3)(333,0.7)(334,0.2)(335,0.4)(336,0.3)(337,0.6)(339,0.4)(340,0.7)(341,0.5)(342,0.6)(343,0.4)(345,0.5)(346,0.3)(347,0.25)(348,0.3)(349,0.2)(351,0.3)(352,0.25)(353,0.2)(354,0.3)(355,0.2)(357,0.4)(358,0.6)(359,0.8)(360,0.5)(361,0.7)(363,1.0)(364,0.6)(365,0.8)};
\node[plbl] at (axis cs:-6.5,5) {(D)};
\end{axis}

% ---------------- (E) ETa/ET0
\begin{axis}[panel, at={(97bp,42bp)}, height=142bp, ymin=-0.047, ymax=1.513, ytick={0,0.5,1}, yticklabels={0.0,,1.0},
  xticklabels={Jan,Mar,May,July,Sep,Nov,Jan},
  legend style={at={(axis cs:305,0.815)}, anchor=north west}]
\addlegendimage{black, lwb, dash pattern=on 3bp off 2.5bp}\addlegendentry{EF}
\addlegendimage{black, lwb}\addlegendentry{BU}
\addlegendimage{cgray, lwb}\addlegendentry{WI}
\addplot[cgray, lwb, forget plot] coordinates {(-13,1.03)(22,1.03)(23,1.17)(36,1.17)(38,0.95)(40,0.8)(42,0.7)(45,1.15)(46,1.0)(48,0.9)(49,1.1)(50,0.85)(52,0.55)(59,0.25)(62,0.25)(64,1.15)(66,0.5)(69,0.15)(74,0.08)(76,0.1)(80,0.2)(83,0.3)(88,0.4)(93,0.5)(97,0.3)(100,1.05)(102,0.3)(105,0.5)(109,0.8)(112,0.95)(114,0.9)(117,0.6)(119,0.5)(123,0.85)(126,1.0)(129,0.8)(131,0.7)(136,0.6)(141,0.5)(145,0.25)(148,0.2)(150,0.2)(151,0.35)(152.5,0.7)(154,0.75)(155,0.7)(157,0.8)(158,0.75)(160,0.6)(162,0.75)(164,0.8)(167,0.75)(170,0.77)(180,0.75)(190,0.75)(200,0.74)(204,0.74)(205,0.72)(207,0.7)(210,0.65)(212,0.68)(214,0.7)(217,0.65)(219,0.7)(222,0.72)(224,0.7)(226,0.68)(229,0.7)(231,0.6)(234,0.55)(236,0.72)(237,0.7)(238,0.68)(241,0.7)(243,0.65)(246,0.6)(248,0.55)(250,0.6)(251,0.45)(253,0.4)(254,0.5)(255,0.6)(256,0.65)(257,0.6)(259,0.5)(260,0.45)(261,0.4)(262,0.35)(263,0.45)(265,0.5)(267,0.55)(270,0.5)(272,0.55)(274,0.5)(277,0.5)(279,0.55)(281,0.6)(284,0.7)(286,0.8)(289,0.85)(291,0.9)(293,0.93)(296,0.97)(298,1.0)(300,1.02)(341,1.02)(342,1.17)(365,1.17)};
\addplot[black, lwb, forget plot] coordinates {(-13,1.1)(36,1.1)(38,0.95)(40,0.8)(42,0.7)(45,1.18)(46,1.0)(48,0.9)(49,1.1)(50,0.85)(52,0.8)(56,0.65)(61,0.55)(63,0.5)(64,1.1)(66,0.6)(69,0.45)(74,0.4)(78,1.1)(80,0.4)(81,0.35)(86,0.25)(90,0.2)(94,0.8)(95.5,0.3)(98,0.9)(100,0.2)(102,0.3)(105,0.7)(107,0.2)(110,0.5)(112,0.7)(114,0.3)(117,0.6)(119,0.8)(121,0.6)(124,0.85)(126,0.7)(129,0.85)(131,0.6)(133,0.5)(136,0.4)(138,0.5)(141,0.3)(143,0.25)(145,0.18)(148,0.15)(150,0.2)(151,0.5)(152.5,0.8)(154,0.85)(155,0.75)(156,0.85)(157,0.9)(158,0.95)(160,0.85)(161,0.55)(162,0.9)(163,0.8)(164,0.95)(166,0.9)(167,0.95)(169,0.85)(175,0.84)(180,0.82)(190,0.82)(200,0.81)(204,0.8)(205,0.75)(206,0.6)(207,0.55)(208,0.5)(210,0.55)(211,0.45)(212,0.5)(213,0.45)(214,0.5)(216,0.45)(217,0.7)(218,0.8)(219,0.78)(220,0.75)(222,0.6)(223,0.5)(224,0.6)(225,0.55)(226,0.45)(228,0.6)(229,0.55)(230,0.5)(231,0.45)(232,0.4)(234,0.35)(235,0.3)(236,0.7)(237,0.55)(238,0.45)(241,0.4)(243,0.3)(246,0.25)(248,0.2)(250,0.25)(251,0.15)(253,0.5)(254,0.4)(255,0.3)(256,0.5)(258,0.4)(260,0.45)(262,0.15)(263,0.35)(265,0.4)(266,0.45)(267,0.4)(268,0.5)(269,0.55)(271,0.6)(272,0.65)(273,0.6)(274,0.5)(275,0.55)(277,0.5)(278,0.55)(279,0.6)(280,0.7)(281,0.75)(283,0.8)(285,0.85)(286,0.9)(289,0.95)(291,0.98)(293,1.0)(296,1.03)(298,1.05)(300,1.1)(365,1.1)};
\addplot[black, lwb, dash pattern=on 3bp off 2.5bp, forget plot] coordinates {(-13,1.0)(36,1.0)(38,0.9)(40,0.8)(42,0.7)(45,1.18)(46,1.0)(48,0.9)(49,1.1)(50,0.85)(52,0.6)(57,0.35)(62,0.2)(64,1.15)(66,0.6)(69,0.2)(74,0.2)(78,1.15)(79,0.3)(83,0.4)(86,0.45)(90,0.5)(94,0.55)(98,0.5)(100,0.7)(105,0.6)(110,0.5)(112,0.55)(117,0.45)(119,0.7)(123,0.6)(126,0.85)(129,0.7)(131,0.5)(136,0.3)(141,0.25)(145,0.15)(148,0.12)(150,0.1)(151,0.3)(152.5,0.6)(154,0.7)(155,0.8)(156,0.75)(157,0.85)(158,0.8)(160,0.8)(161,0.6)(162,0.8)(163,0.85)(164,0.9)(167,0.88)(170,0.87)(180,0.86)(190,0.86)(200,0.85)(204,0.85)(205,0.8)(206,0.75)(207,0.6)(209,0.55)(210,0.45)(212,0.35)(213,0.3)(214,0.35)(216,0.5)(217,0.7)(218,0.75)(219,0.7)(221,0.6)(222,0.5)(223,0.45)(224,0.35)(225,0.25)(226,0.2)(228,0.15)(230,0.1)(231,0.05)(233,0.1)(235,0.15)(236,0.25)(237,0.3)(238,0.2)(240,0.25)(241,0.4)(242,0.5)(243,0.45)(244,0.3)(246,0.2)(247,0.15)(249,0.2)(250,0.1)(251,0.15)(253,0.1)(254,0.2)(255,0.3)(256,0.25)(257,0.4)(259,0.35)(260,0.25)(261,0.2)(263,0.2)(264,0.3)(265,0.35)(266,0.3)(267,0.35)(268,0.4)(269,0.5)(271,0.45)(272,0.5)(273,0.55)(274,0.4)(275,0.35)(278,0.4)(279,0.5)(280,0.65)(281,0.7)(283,0.75)(285,0.8)(286,0.85)(289,0.9)(291,0.95)(293,0.98)(296,1.0)(341,1.0)(342,1.15)(365,1.15)};
\node[plbl] at (axis cs:-6.5,0.5) {(E)};
\end{axis}

% y-axis titles
\node[rotate=90, font=\fontsize{23.5}{23.5}\selectfont] at (27bp,648bp) {\textit{T}\textsubscript{\textit{a,v}},\hspace{1.5em}\textit{E}\textsubscript{\textit{s}},\hspace{1.5em}\textit{ET}\textsubscript{\textit{a,cc}} (mm/Tag)};
\node[rotate=90, font=\fontsize{23}{23}\selectfont] at (27bp,261bp) {\textit{ET}\textsubscript{0} (mm/Tag)};
\node[rotate=90, font=\fontsize{23}{23}\selectfont] at (27bp,124bp) {\textit{ET}\textsubscript{\textit{a}}/\textit{ET}\textsubscript{0}};
\end{tikzpicture}
\end{document}
